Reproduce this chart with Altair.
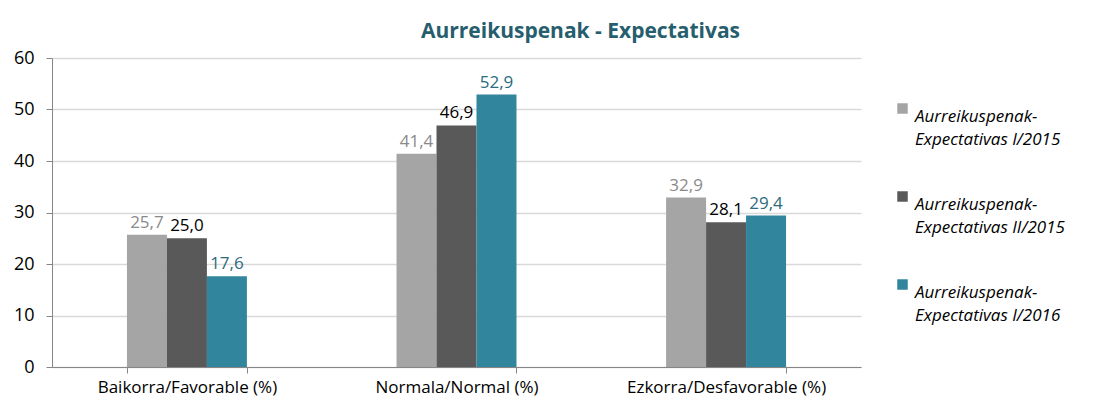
import altair as alt
import pandas as pd

categories = ["Baikorra/Favorable (%)", "Normala/Normal (%)", "Ezkorra/Desfavorable (%)"]
series = ["Aurreikuspenak-Expectativas I/2015", "Aurreikuspenak-Expectativas II/2015", "Aurreikuspenak-Expectativas I/2016"]
values_i2015 = [25.7, 41.4, 32.9]
values_ii2015 = [25.0, 46.9, 28.1]
values_i2016 = [17.6, 52.9, 29.4]

rows = []
for s, vals in zip(series, [values_i2015, values_ii2015, values_i2016]):
    for c, v in zip(categories, vals):
        rows.append({"cat": c, "series": s, "value": v})
df = pd.DataFrame(rows)

bar_colors = ["#a5a5a5", "#595959", "#31859c"]
label_colors = ["#8a8a8a", "#000000", "#2b6b7d"]
FONT = "Open Sans"

x = alt.X("cat:N", sort=categories, title=None,
          scale=alt.Scale(paddingInner=0.555, paddingOuter=0.278),
          axis=alt.Axis(labelAngle=0, labelFontSize=17, labelColor="#000000", labelPadding=6,
                        domainColor="#868686", tickColor="#868686", tickBand="extent",
                        tickSize=6, labelFont=FONT, labelLimit=400))
xo = alt.XOffset("series:N", sort=series)
y = alt.Y("value:Q", title=None,
          scale=alt.Scale(domain=[0, 60]),
          axis=alt.Axis(values=[0, 10, 20, 30, 40, 50, 60], labelFontSize=18, labelColor="#000000",
                        domainColor="#868686", tickColor="#868686", tickSize=6, labelPadding=12,
                        gridColor="#d9d9d9", gridWidth=1.5, labelFont=FONT))

bars = alt.Chart(df).mark_bar().encode(
    x=x, xOffset=xo, y=y,
    color=alt.Color("series:N", sort=series,
                    scale=alt.Scale(domain=series, range=bar_colors),
                    legend=alt.Legend(title=None, orient="none", legendX=842, legendY=42,
                                      labelExpr="split(replace(datum.label, '-', '-|'), '|')",
                                      labelFontStyle="italic", labelFontSize=17, labelFont=FONT,
                                      labelColor="#000000", symbolType="square", symbolSize=110,
                                      symbolStrokeWidth=0, rowPadding=40, labelLimit=300,
                                      labelBaseline="top", labelOffset=4, symbolOffset=0))
)

labels = alt.Chart(df).transform_calculate(
    lbl="replace(format(datum.value, '.1f'), '.', ',')"
).mark_text(dy=-12, fontSize=17, font=FONT).encode(
    x=x, xOffset=xo, y=y, text="lbl:N",
    color=alt.Color("series:N", sort=series,
                    scale=alt.Scale(domain=series, range=label_colors), legend=None)
)

chart = alt.layer(bars, labels).resolve_scale(color="independent").properties(
    width=809, height=309,
    padding={"top": 13, "left": 5, "right": 5, "bottom": 5},
    title=alt.TitleParams("Aurreikuspenak - Expectativas", font=FONT, fontSize=21, fontWeight="bold",
                          color="#265e6e", anchor="middle", dx=124, offset=7)
).configure(background="white", style={"guide-label": {"lineHeight": 23}}).configure_view(stroke=None)

chart.save("out.html", embed_options={"renderer": "svg", "actions": False})
